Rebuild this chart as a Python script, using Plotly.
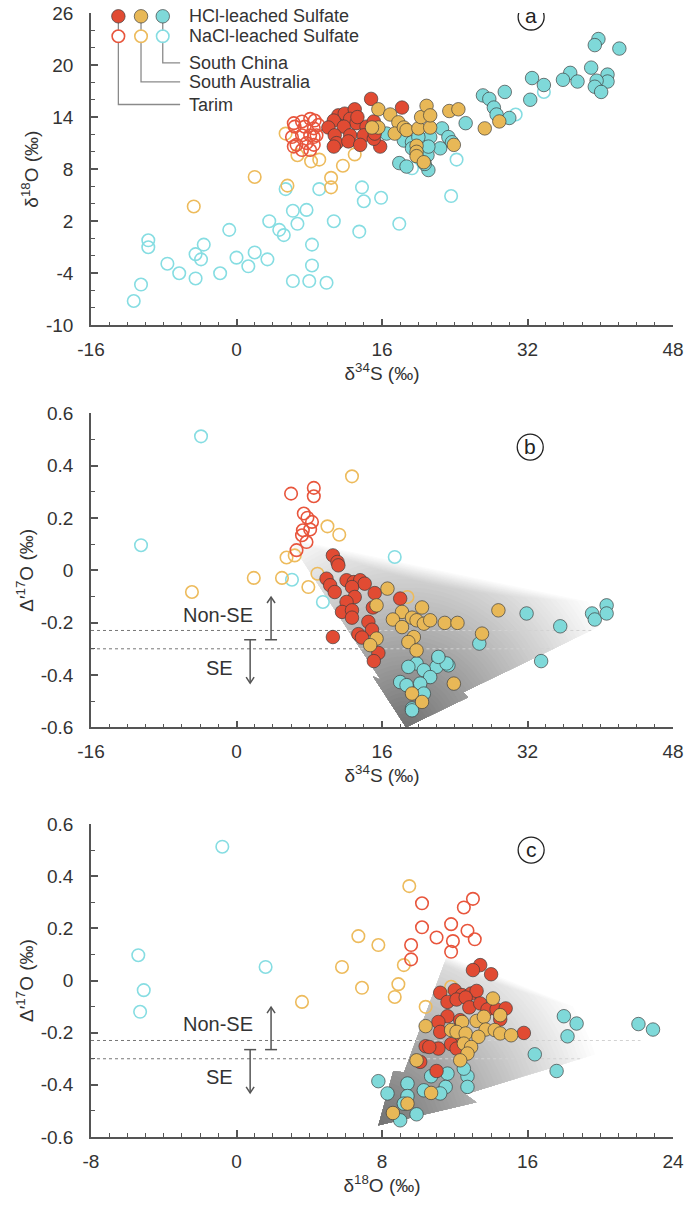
import numpy as np
import plotly.graph_objects as go

# ---------------- DATA ----------------
# Panel (a): d34S (x) vs d18O (y)
a_tarim_nacl_x = [7.2, 8.1, 8.6, 6.4, 7.5, 8.5, 9.0, 6.1, 7.2, 8.1, 8.8, 6.6, 7.7, 8.5, 6.3, 7.2, 8.1, 6.3, 8.5]
a_tarim_nacl_y = [13.5, 13.8, 13.6, 12.9, 12.9, 12.7, 13.1, 11.7, 11.9, 11.9, 11.9, 10.8, 11.0, 10.8, 10.6, 10.2, 10.2, 13.3, 11.7]
a_tarim_hcl_x = [14.8, 18.2, 11.2, 11.9, 13.0, 10.7, 12.5, 13.2, 10.1, 11.8, 14.3, 15.1, 10.8, 12.5, 14.0, 11.0, 12.3, 13.6, 15.8, 15.1, 13.3, 15.2, 10.7]
a_tarim_hcl_y = [16.1, 15.1, 14.2, 14.4, 14.9, 13.6, 13.8, 13.3, 12.8, 12.9, 12.9, 13.5, 11.9, 11.9, 11.9, 11.0, 11.2, 10.8, 10.6, 11.5, 14.0, 12.1, 10.6]
a_sa_nacl_x = [-4.7, 2.0, 5.4, 5.6, 6.7, 8.2, 9.1, 10.4, 10.4, 11.7, 13.0]
a_sa_nacl_y = [3.7, 7.1, 12.1, 6.1, 9.6, 8.9, 9.1, 7.0, 5.9, 8.4, 9.7]
a_sa_hcl_x = [15.6, 16.9, 17.8, 15.6, 14.9, 17.4, 18.4, 18.7, 20.0, 21.3, 20.3, 20.9, 21.3, 19.8, 19.8, 19.8, 20.6, 23.9, 23.4, 24.4, 27.3, 28.9]
a_sa_hcl_y = [14.9, 14.3, 13.4, 12.8, 12.8, 12.1, 12.8, 12.5, 12.7, 12.8, 14.0, 15.3, 14.2, 10.7, 10.0, 9.5, 8.8, 10.8, 14.7, 14.9, 12.7, 13.5]
a_sc_nacl_x = [-11.3, -10.5, -9.7, -9.7, -7.6, -6.3, -4.5, -4.5, -3.9, -3.6, -1.8, -0.8, 0.0, 1.3, 2.0, 3.4, 3.6, 4.7, 5.2, 5.4,
               6.2, 6.7, 6.2, 7.7, 8.0, 8.3, 8.3, 9.1, 9.9, 10.7, 13.5, 13.8, 14.0, 15.9, 17.9, 23.6, 24.2, 19.3, 30.7, 33.8]
a_sc_nacl_y = [-7.2, -5.3, -0.2, -1.0, -2.9, -4.0, -4.6, -1.8, -2.4, -0.7, -4.0, 1.0, -2.2, -3.2, -1.6, -2.4, 2.0, 1.0, 0.4, 5.7,
               3.2, 1.7, -4.9, 3.3, -4.9, -3.1, -0.7, 5.7, -5.1, 2.0, 0.8, 5.9, 4.3, 4.7, 1.7, 4.9, 9.1, 8.1, 14.3, 16.9]
a_sc_hcl_x = [39.8, 39.4, 42.1, 39.0, 40.8, 40.8, 39.6, 39.4, 40.1, 36.7, 35.9, 37.5, 32.5, 33.8, 32.3, 29.5, 27.1, 27.8, 28.3,
              28.6, 30.0, 25.2, 22.6, 23.3, 23.7, 22.4, 21.3, 21.0, 21.1, 20.7, 17.9, 18.7, 18.4, 16.5, 19.3, 20.0, 19.3, 21.1]
a_sc_hcl_y = [23.0, 22.3, 21.9, 19.7, 18.9, 18.1, 18.2, 17.5, 16.9, 19.1, 18.3, 18.1, 18.5, 17.7, 16.0, 16.9, 16.5, 16.1, 15.1,
              14.3, 13.9, 13.3, 12.7, 11.7, 11.1, 10.4, 11.7, 9.6, 7.9, 8.6, 8.7, 8.3, 11.3, 12.1, 11.1, 11.7, 10.4, 10.6]

# Panel (b): d34S (x) vs D'17O (y)
b_tarim_nacl_x = [6.0, 8.5, 8.5, 7.4, 7.8, 8.3, 7.3, 8.1, 7.2, 7.7, 6.6]
b_tarim_nacl_y = [0.293, 0.315, 0.283, 0.217, 0.201, 0.185, 0.153, 0.156, 0.134, 0.108, 0.077]
b_tarim_hcl_x = [10.6, 11.1, 11.2, 9.9, 10.3, 10.8, 12.1, 12.9, 13.6, 14.1, 12.7, 13.0, 12.1, 11.6, 12.7, 12.7, 15.2, 18.0,
                 15.0, 14.5, 14.9, 13.4, 13.8, 15.6, 15.1, 10.6]
b_tarim_hcl_y = [0.057, 0.032, 0.019, -0.032, -0.057, -0.083, -0.038, -0.045, -0.038, -0.051, -0.064, -0.102, -0.121, -0.159,
                 -0.153, -0.181, -0.087, -0.108, -0.142, -0.197, -0.227, -0.244, -0.257, -0.316, -0.347, -0.255]
b_sa_nacl_x = [-4.9, 1.9, 5.0, 5.5, 6.4, 8.9, 7.9, 10.0, 11.3, 12.7, 18.8]
b_sa_nacl_y = [-0.083, -0.029, -0.029, 0.049, 0.057, -0.013, -0.064, 0.168, 0.136, 0.359, -0.102]
b_sa_hcl_x = [16.6, 15.4, 18.2, 20.4, 17.2, 18.2, 19.3, 19.8, 20.6, 21.3, 22.9, 24.3, 19.5, 18.9, 19.8, 15.4, 14.7, 23.9,
              19.3, 20.4, 28.8, 27.0]
b_sa_hcl_y = [-0.070, -0.134, -0.159, -0.142, -0.188, -0.217, -0.181, -0.191, -0.204, -0.191, -0.201, -0.201, -0.255, -0.274,
              -0.306, -0.261, -0.286, -0.433, -0.471, -0.503, -0.153, -0.242]
b_sc_nacl_x = [-3.9, -10.5, 6.1, 9.5, 17.4]
b_sc_nacl_y = [0.512, 0.096, -0.036, -0.121, 0.051]
b_sc_hcl_x = [31.9, 35.6, 33.5, 26.7, 39.1, 39.4, 40.7, 40.7, 22.2, 23.3, 22.0, 19.8, 20.6, 18.9, 21.3, 18.0, 18.7, 20.2,
              20.6, 19.3, 19.3, 23.1, 22.2]
b_sc_hcl_y = [-0.165, -0.214, -0.347, -0.280, -0.165, -0.188, -0.134, -0.165, -0.337, -0.363, -0.369, -0.356, -0.382,
              -0.369, -0.408, -0.427, -0.439, -0.433, -0.471, -0.528, -0.535, -0.356, -0.331]

# Panel (c): d18O (x) vs D'17O (y)
c_tarim_nacl_x = [10.2, 10.2, 9.6, 9.6, 11.0, 11.8, 11.9, 11.8, 12.5, 13.0, 12.7, 13.1]
c_tarim_nacl_y = [0.296, 0.204, 0.136, 0.081, 0.165, 0.216, 0.151, 0.110, 0.280, 0.313, 0.191, 0.158]
c_tarim_hcl_x = [13.4, 13.0, 14.0, 11.2, 12.0, 12.4, 12.9, 13.2, 11.6, 12.1, 12.6, 12.8, 13.4, 13.8, 14.3, 14.8, 11.6,
                 11.1, 12.3, 14.5, 11.2, 15.8, 12.3, 11.8, 12.1, 10.4, 11.1, 10.1, 11.0, 10.6]
c_tarim_hcl_y = [0.059, 0.040, 0.024, -0.047, -0.037, -0.056, -0.050, -0.040, -0.082, -0.073, -0.065, -0.103, -0.088,
                 -0.111, -0.111, -0.107, -0.137, -0.159, -0.152, -0.149, -0.197, -0.201, -0.242, -0.244, -0.261, -0.252,
                 -0.261, -0.312, -0.347, -0.255]
c_sa_nacl_x = [3.6, 5.8, 6.7, 7.8, 6.9, 9.5, 8.9, 8.7, 9.2, 10.4, 11.8]
c_sa_nacl_y = [-0.082, 0.052, 0.170, 0.136, -0.028, 0.362, -0.014, -0.063, 0.059, -0.101, -0.024]
c_sa_hcl_x = [14.1, 10.4, 12.4, 13.2, 13.6, 14.5, 13.7, 14.2, 14.5, 15.1, 11.8, 12.1, 12.6, 13.3, 12.5, 12.9, 12.7, 12.3,
              9.9, 10.7, 9.4, 8.6]
c_sa_hcl_y = [-0.069, -0.175, -0.159, -0.155, -0.139, -0.133, -0.188, -0.190, -0.203, -0.210, -0.190, -0.197, -0.203,
              -0.216, -0.242, -0.255, -0.280, -0.306, -0.306, -0.431, -0.472, -0.508]
c_sc_nacl_x = [-0.78, -5.4, -5.1, -5.3, 1.6]
c_sc_nacl_y = [0.513, 0.097, -0.037, -0.120, 0.052]
c_sc_hcl_x = [18.0, 18.7, 18.2, 22.1, 22.9, 16.4, 17.6, 7.8, 8.3, 9.4, 9.4, 9.9, 9.0, 10.3, 10.7, 11.6, 11.5, 11.2, 12.7,
              12.7, 12.5, 9.2]
c_sc_hcl_y = [-0.137, -0.165, -0.214, -0.167, -0.188, -0.283, -0.347, -0.386, -0.433, -0.395, -0.443, -0.513, -0.536,
              -0.421, -0.367, -0.357, -0.408, -0.433, -0.367, -0.408, -0.338, -0.472]

# Gradient fan outlines (data coords): top/left start, shaft end, barb, tip, barb, notch, right end
fan_b_x = [5.57, 15.9, 15.0, 18.65, 25.48, 24.93, 43.6]
fan_b_y = [0.126, -0.420, -0.405, -0.600, -0.485, -0.466, -0.153]
fan_c_x = [11.59, 9.22, 8.62, 7.81, 13.19, 12.58, 22.82]
fan_c_y = [0.097, -0.352, -0.348, -0.555, -0.467, -0.436, -0.217]

se_limits = [-0.23, -0.30]  # dashed boundary lines

# ticks
a_xticks = [-16, 0, 16, 32, 48]
a_yticks = [-10, -4, 2, 8, 14, 20, 26]
d17_ticks = [-0.6, -0.4, -0.2, 0, 0.2, 0.4, 0.6]
d17_ticktext = ['-0.6', '-0.4', '-0.2', '0', '0.2', '0.4', '0.6']
c_xticks = [-8, 0, 8, 16, 24]

# ---------------- STYLE ----------------
W, H = 685, 1209
ML, MR, MT, MB = 91, 12, 13, 72
FONT = 'Liberation Sans, Arial, sans-serif'
TXT = '#333333'
AX = '#555555'
RED, GOLD, CYAN = '#E14B33', '#E8B857', '#7FD9D9'
RED_O, GOLD_O, CYAN_O = '#E8553C', '#EDBB5C', '#86DDE2'
EDGE = 'rgba(60,60,60,0.85)'

PW = W - ML - MR
PH = H - MT - MB
dom_a = [(PH - 312.3) / PH, 1.0]
dom_b = [(PH - 714.3) / PH, (PH - 400.3) / PH]
dom_c = [0.0, 313.0 / PH]
rng_a_x, rng_a_y = [-16, 48], [-10, 26]
rng_b_x, rng_b_y = [-16, 48], [-0.6, 0.6]
rng_c_x, rng_c_y = [-8, 24], [-0.6, 0.6]

fig = go.Figure()


def add_pts(x, y, color, filled, xa, ya):
    if filled:
        m = dict(symbol='circle', size=13.5, color=color, line=dict(color=EDGE, width=0.8))
    else:
        m = dict(symbol='circle-open', size=12.5, color=color, line=dict(color=color, width=1.6))
    fig.add_trace(go.Scatter(x=x, y=y, mode='markers', marker=m, xaxis=xa, yaxis=ya,
                             showlegend=False, hoverinfo='skip', cliponaxis=False))


def clip_edge(inp, a, b):
    """Keep the part of polygon inp on the left of the directed line a->b."""
    if not inp:
        return []
    ex, ey = b[0] - a[0], b[1] - a[1]

    def inside(p):
        return ex * (p[1] - a[1]) - ey * (p[0] - a[0]) >= 0

    def inter(p, q):
        dx, dy = q[0] - p[0], q[1] - p[1]
        den = ex * dy - ey * dx
        t = (ex * (a[1] - p[1]) - ey * (a[0] - p[0])) / den
        return (p[0] + t * dx, p[1] + t * dy)

    out = []
    s = inp[-1]
    for e in inp:
        if inside(e):
            if not inside(s):
                out.append(inter(s, e))
            out.append(e)
        elif inside(s):
            out.append(inter(s, e))
        s = e
    return out


def add_fan(fx, fy, sx, sy, xa, ya, rwhite, fade_top):
    tip = (fx[3] * sx, fy[3] * sy)
    subj = [(x * sx, y * sy) for x, y in zip(fx, fy)]
    # upper boundary line (right end -> top/left start), interior on its left
    A = subj[6]
    B = subj[0]
    ex, ey = B[0] - A[0], B[1] - A[1]
    ln = np.hypot(ex, ey)
    nx, ny = -ey / ln, ex / ln
    th = np.linspace(0, 2 * np.pi, 97)[:-1]
    for L in np.arange(1.0, 0.0, -0.018):
        g = int(round(112 + 143 * L))
        if g >= 253:
            continue
        r = L * rwhite
        poly = list(subj)
        circ = [(tip[0] + r * np.cos(t), tip[1] + r * np.sin(t)) for t in th]
        for i in range(len(circ)):
            poly = clip_edge(poly, circ[i], circ[(i + 1) % len(circ)])
        off = (1.0 - L) * fade_top
        poly = clip_edge(poly, (A[0] + off * nx, A[1] + off * ny), (B[0] + off * nx, B[1] + off * ny))
        if len(poly) < 3:
            continue
        px = [p[0] / sx for p in poly] + [poly[0][0] / sx]
        py = [p[1] / sy for p in poly] + [poly[0][1] / sy]
        fig.add_trace(go.Scatter(x=px, y=py, mode='lines', fill='toself', line=dict(width=0),
                                 fillcolor=f'rgb({g},{g},{g})', xaxis=xa, yaxis=ya,
                                 showlegend=False, hoverinfo='skip'))


def x_at(p, q, y):
    return p[0] + (y - p[1]) * (q[0] - p[0]) / (q[1] - p[1])


def add_dashes(fx, fy, xmin, xa, ya):
    for yv in se_limits:
        xl = x_at((fx[0], fy[0]), (fx[1], fy[1]), yv)
        xr = x_at((fx[5], fy[5]), (fx[6], fy[6]), yv)
        fig.add_trace(go.Scatter(x=[xmin, xl], y=[yv, yv], mode='lines',
                                 line=dict(color='#777777', width=1, dash='3px,3px'),
                                 xaxis=xa, yaxis=ya, showlegend=False, hoverinfo='skip'))
        fig.add_trace(go.Scatter(x=[xl, xr], y=[yv, yv], mode='lines',
                                 line=dict(color='#d2d2d2', width=1, dash='3px,3px'),
                                 xaxis=xa, yaxis=ya, showlegend=False, hoverinfo='skip'))


sx_b = PW / (rng_b_x[1] - rng_b_x[0])
sy_b = PH * (dom_b[1] - dom_b[0]) / (rng_b_y[1] - rng_b_y[0])
sx_c = PW / (rng_c_x[1] - rng_c_x[0])
sy_c = PH * (dom_c[1] - dom_c[0]) / (rng_c_y[1] - rng_c_y[0])

# ---- panel a ----
add_pts(a_sc_nacl_x, a_sc_nacl_y, CYAN_O, False, 'x', 'y')
add_pts(a_sa_nacl_x, a_sa_nacl_y, GOLD_O, False, 'x', 'y')
add_pts(a_tarim_nacl_x, a_tarim_nacl_y, RED_O, False, 'x', 'y')
add_pts(a_sc_hcl_x, a_sc_hcl_y, CYAN, True, 'x', 'y')
add_pts(a_tarim_hcl_x, a_tarim_hcl_y, RED, True, 'x', 'y')
add_pts(a_sa_hcl_x, a_sa_hcl_y, GOLD, True, 'x', 'y')

# ---- panel b ----
add_fan(fan_b_x, fan_b_y, sx_b, sy_b, 'x2', 'y2', 225.0, 45.0)
add_dashes(fan_b_x, fan_b_y, rng_b_x[0], 'x2', 'y2')
add_pts(b_sc_nacl_x, b_sc_nacl_y, CYAN_O, False, 'x2', 'y2')
add_pts(b_sa_nacl_x, b_sa_nacl_y, GOLD_O, False, 'x2', 'y2')
add_pts(b_tarim_nacl_x, b_tarim_nacl_y, RED_O, False, 'x2', 'y2')
add_pts(b_sc_hcl_x, b_sc_hcl_y, CYAN, True, 'x2', 'y2')
add_pts(b_tarim_hcl_x, b_tarim_hcl_y, RED, True, 'x2', 'y2')
add_pts(b_sa_hcl_x, b_sa_hcl_y, GOLD, True, 'x2', 'y2')

# ---- panel c ----
add_fan(fan_c_x, fan_c_y, sx_c, sy_c, 'x3', 'y3', 232.0, 40.0)
add_dashes(fan_c_x, fan_c_y, rng_c_x[0], 'x3', 'y3')
add_pts(c_sc_nacl_x, c_sc_nacl_y, CYAN_O, False, 'x3', 'y3')
add_pts(c_sa_nacl_x, c_sa_nacl_y, GOLD_O, False, 'x3', 'y3')
add_pts(c_tarim_nacl_x, c_tarim_nacl_y, RED_O, False, 'x3', 'y3')
add_pts(c_sc_hcl_x, c_sc_hcl_y, CYAN, True, 'x3', 'y3')
add_pts(c_tarim_hcl_x, c_tarim_hcl_y, RED, True, 'x3', 'y3')
add_pts(c_sa_hcl_x, c_sa_hcl_y, GOLD, True, 'x3', 'y3')

# ---- custom legend in panel a ----
leg_cols_x = [-12.99, -10.50, -8.11]
leg_fill_y, leg_open_y = 25.62, 23.32
leg_elbow_y = [15.45, 18.05, 20.24]
leg_line_end = -6.2
leg_text_x = -5.47
leg_fill_colors = [RED, GOLD, CYAN]
leg_open_colors = [RED_O, GOLD_O, CYAN_O]
leg_region_names = ['Tarim', 'South Australia', 'South China']
for cx, ey in zip(leg_cols_x, leg_elbow_y):
    fig.add_trace(go.Scatter(x=[cx, cx, leg_line_end], y=[leg_fill_y, ey, ey], mode='lines',
                             line=dict(color='#8a8a8a', width=1.3), xaxis='x', yaxis='y',
                             showlegend=False, hoverinfo='skip', cliponaxis=False))
fig.add_trace(go.Scatter(x=leg_cols_x, y=[leg_open_y] * 3, mode='markers',
                         marker=dict(symbol='circle', size=11, color='white'), xaxis='x', yaxis='y',
                         showlegend=False, hoverinfo='skip', cliponaxis=False))
fig.add_trace(go.Scatter(x=leg_cols_x, y=[leg_open_y] * 3, mode='markers',
                         marker=dict(symbol='circle-open', size=12.5, color=leg_open_colors,
                                     line=dict(color=leg_open_colors, width=1.6)),
                         xaxis='x', yaxis='y', showlegend=False, hoverinfo='skip', cliponaxis=False))
fig.add_trace(go.Scatter(x=leg_cols_x, y=[leg_fill_y] * 3, mode='markers',
                         marker=dict(symbol='circle', size=13.5, color=leg_fill_colors,
                                     line=dict(color=EDGE, width=0.8)),
                         xaxis='x', yaxis='y', showlegend=False, hoverinfo='skip', cliponaxis=False))

annotations = []
shapes = []
for txt, yy in [('HCl-leached Sulfate', leg_fill_y), ('NaCl-leached Sulfate', leg_open_y)]:
    annotations.append(dict(x=leg_text_x, y=yy, xref='x', yref='y', text=txt, showarrow=False,
                            xanchor='left', yanchor='middle', font=dict(size=18, color=TXT)))
for name, ey in zip(leg_region_names, leg_elbow_y):
    annotations.append(dict(x=leg_text_x, y=ey, xref='x', yref='y', text=name, showarrow=False,
                            xanchor='left', yanchor='middle', font=dict(size=18, color=TXT)))

# ---- panel letters ----
for lab, xx, yy, xr, yr in [('a', 32.4, 25.54, 'x', 'y'), ('b', 32.3, 0.471, 'x2', 'y2'),
                            ('c', 16.2, 0.50, 'x3', 'y3')]:
    shapes.append(dict(type='circle', xref=xr, yref=yr, xsizemode='pixel', ysizemode='pixel',
                       xanchor=xx, yanchor=yy, x0=-13, x1=13, y0=-13, y1=13,
                       line=dict(color='#222222', width=1.3)))
    annotations.append(dict(x=xx, y=yy, xref=xr, yref=yr, text=lab, showarrow=False,
                            font=dict(size=21, color='#222222'), yshift=1))

# ---- SE / Non-SE arrows ----
se_sets = [('x2', 'y2', sx_b, sy_b, 3.8, 1.5, (-2.08, -0.172), (-1.84, -0.374)),
           ('x3', 'y3', sx_c, sy_c, 1.9, 0.75, (-1.04, -0.167), (-0.92, -0.370))]
bar_y, up_y, down_y = -0.265, -0.102, -0.431
for xr, yr, sx, sy, xn, xs, tpos_n, tpos_s in se_sets:
    cap = 6.0 / sx
    bx, by = 4.0 / sx, 6.0 / sy
    for xc, yh, sgn in ((xn, up_y, 1), (xs, down_y, -1)):
        fig.add_trace(go.Scatter(
            x=[xc, xc, None, xc - bx, xc, xc + bx, None, xc - cap, xc + cap],
            y=[bar_y, yh, None, yh - sgn * by, yh, yh - sgn * by, None, bar_y, bar_y],
            mode='lines', line=dict(color=AX, width=1.5), xaxis=xr, yaxis=yr,
            showlegend=False, hoverinfo='skip', cliponaxis=False))
    annotations.append(dict(x=tpos_n[0], y=tpos_n[1], xref=xr, yref=yr, text='Non-SE', showarrow=False,
                            font=dict(size=20, color=TXT)))
    annotations.append(dict(x=tpos_s[0], y=tpos_s[1], xref=xr, yref=yr, text='SE', showarrow=False,
                            font=dict(size=20, color=TXT)))


def axis_common(**kw):
    d = dict(showline=True, linecolor=AX, linewidth=1.5, ticks='inside', ticklen=7, tickwidth=1.5,
             tickcolor=AX, showgrid=False, zeroline=False, tickfont=dict(size=19, color=TXT),
             tickmode='array', fixedrange=True, automargin=False, ticklabeloverflow='allow')
    d.update(kw)
    return d


def minor(dt, t0):
    return dict(ticks='inside', ticklen=4, tickwidth=1.2, tickcolor=AX, tickmode='linear', dtick=dt, tick0=t0,
                showgrid=False)


xt_title = dict(font=dict(size=19, color=TXT), standoff=3)
yt_title = dict(font=dict(size=19, color=TXT), standoff=2)

fig.update_layout(
    width=W, height=H, margin=dict(l=ML, r=MR, t=MT, b=MB, autoexpand=False),
    paper_bgcolor='white', plot_bgcolor='white',
    font=dict(family=FONT, color=TXT),
    showlegend=False,
    xaxis=axis_common(domain=[0, 1], anchor='y', range=rng_a_x, tickvals=a_xticks,
                      ticktext=[str(v) for v in a_xticks], minor=minor(2, 0), ticklabelstandoff=6,
                      title=dict(text='δ<sup>34</sup>S (‰)', **xt_title)),
    yaxis=axis_common(domain=dom_a, anchor='x', range=rng_a_y, tickvals=a_yticks,
                      ticktext=[str(v) for v in a_yticks], minor=minor(2, 0), ticklabelstandoff=12,
                      title=dict(text='δ<sup>18</sup>O (‰)', **yt_title)),
    xaxis2=axis_common(domain=[0, 1], anchor='y2', range=rng_b_x, tickvals=a_xticks,
                       ticktext=[str(v) for v in a_xticks], minor=minor(2, 0), ticklabelstandoff=6,
                       title=dict(text='δ<sup>34</sup>S (‰)', **xt_title)),
    yaxis2=axis_common(domain=dom_b, anchor='x2', range=rng_b_y, tickvals=d17_ticks,
                       ticktext=d17_ticktext, minor=minor(0.1, 0), ticklabelstandoff=12,
                       title=dict(text="Δ′<sup>17</sup>O (‰)", **yt_title)),
    xaxis3=axis_common(domain=[0, 1], anchor='y3', range=rng_c_x, tickvals=c_xticks,
                       ticktext=[str(v) for v in c_xticks], minor=minor(1, 0), ticklabelstandoff=6,
                       title=dict(text='δ<sup>18</sup>O (‰)', **xt_title)),
    yaxis3=axis_common(domain=dom_c, anchor='x3', range=rng_c_y, tickvals=d17_ticks,
                       ticktext=d17_ticktext, minor=minor(0.1, 0), ticklabelstandoff=12,
                       title=dict(text="Δ′<sup>17</sup>O (‰)", **yt_title)),
    annotations=annotations, shapes=shapes,
)

# remove the default 8px page margin so the figure sits at the window's top-left corner
fig.write_html('out.html', config={'displayModeBar': False},
               post_script="document.body.style.margin='0px';")
